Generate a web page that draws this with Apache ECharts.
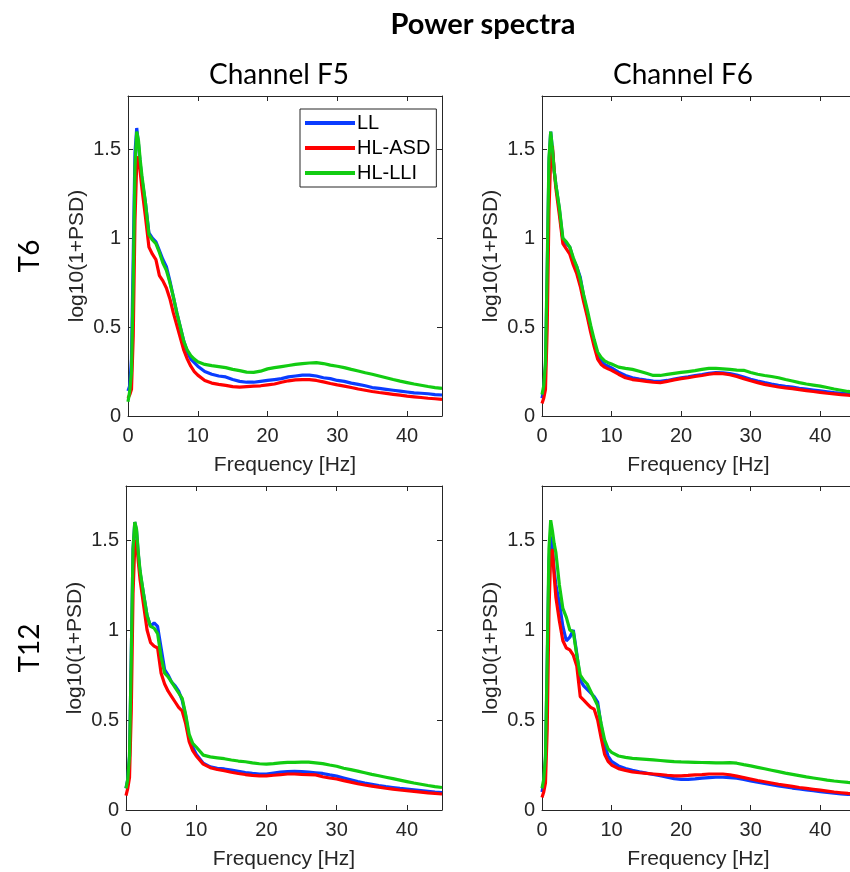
<!DOCTYPE html>
<html>
<head>
<meta charset="utf-8">
<script src="https://cdn.jsdelivr.net/npm/echarts@6/dist/echarts.min.js"></script>
<style>
html,body{margin:0;padding:0;background:#fff;}
#c{width:850px;height:872px;}
</style>
</head>
<body>
<div id="c"></div>
<script>
// Frequency grid (Hz)
const freq = [0,0.25,0.5,0.75,1,1.25,1.5,1.75,2,2.5,3,3.5,4,4.5,5,5.5,6,6.5,7,7.5,8,8.5,9,9.5,10,
  11,12,13,14,15,16,17,18,19,20,21,22,23,24,25,26,27,28,29,30,31,32,33,34,35,36,37,38,39,40,41,42,43,44,45];

const seriesNames = ['LL','HL-ASD','HL-LLI'];
const channelTitles = ['Channel F5','Channel F6'];
const rowTitles = ['T6','T12'];
const xTicks = [0,10,20,30,40];
const yTicks = [0,0.5,1,1.5];

// T6, Channel F5
const t6F5_LL = [0.14,0.17,0.32,0.9,1.48,1.62,1.53,1.42,1.33,1.2,1.03,1.0,0.98,0.93,0.88,0.84,0.76,0.67,0.58,0.5,0.42,0.36,0.32,0.3,0.28,
  0.25,0.235,0.225,0.22,0.205,0.195,0.19,0.19,0.195,0.2,0.205,0.21,0.22,0.225,0.23,0.23,0.225,0.215,0.21,0.2,0.195,0.185,0.178,0.17,0.16,0.155,0.15,0.145,0.14,0.135,0.13,0.128,0.125,0.12,0.118];
const t6F5_ASD = [0.1,0.12,0.15,0.45,1.1,1.42,1.46,1.37,1.28,1.12,0.95,0.91,0.88,0.79,0.76,0.72,0.66,0.58,0.51,0.44,0.37,0.32,0.28,0.25,0.23,
  0.2,0.185,0.178,0.172,0.165,0.162,0.165,0.168,0.17,0.175,0.18,0.19,0.198,0.203,0.205,0.205,0.2,0.192,0.183,0.175,0.168,0.16,0.152,0.145,0.138,0.132,0.127,0.122,0.117,0.112,0.108,0.104,0.1,0.097,0.094];
const t6F5_LLI = [0.08,0.14,0.25,0.75,1.4,1.6,1.55,1.44,1.35,1.2,1.02,0.99,0.97,0.92,0.86,0.82,0.75,0.67,0.58,0.5,0.42,0.37,0.34,0.32,0.305,
  0.29,0.283,0.278,0.272,0.262,0.255,0.247,0.245,0.252,0.265,0.272,0.278,0.284,0.29,0.295,0.298,0.3,0.295,0.286,0.28,0.272,0.262,0.253,0.243,0.235,0.225,0.215,0.205,0.196,0.188,0.18,0.173,0.166,0.16,0.155];

// T6, Channel F6
const t6F6_LL = [0.1,0.15,0.28,0.8,1.42,1.6,1.5,1.38,1.3,1.16,0.99,0.97,0.95,0.88,0.84,0.78,0.67,0.58,0.49,0.41,0.34,0.31,0.29,0.28,0.27,
  0.247,0.228,0.215,0.208,0.202,0.197,0.195,0.2,0.208,0.215,0.22,0.227,0.233,0.24,0.244,0.243,0.238,0.23,0.219,0.207,0.197,0.188,0.18,0.173,0.167,0.162,0.156,0.151,0.146,0.141,0.136,0.131,0.127,0.124,0.122];
const t6F6_ASD = [0.07,0.1,0.15,0.5,1.15,1.45,1.52,1.38,1.28,1.13,0.97,0.94,0.91,0.85,0.8,0.73,0.64,0.56,0.47,0.39,0.32,0.29,0.275,0.265,0.257,
  0.235,0.215,0.205,0.2,0.195,0.19,0.187,0.195,0.203,0.21,0.215,0.222,0.228,0.235,0.24,0.238,0.232,0.222,0.21,0.198,0.188,0.178,0.17,0.163,0.158,0.154,0.148,0.143,0.138,0.133,0.128,0.124,0.12,0.117,0.115];
const t6F6_LLI = [0.12,0.17,0.3,0.85,1.45,1.6,1.5,1.38,1.3,1.17,1.0,0.98,0.95,0.89,0.84,0.77,0.68,0.6,0.51,0.43,0.36,0.33,0.31,0.3,0.292,
  0.275,0.268,0.262,0.252,0.24,0.228,0.228,0.234,0.24,0.245,0.25,0.255,0.262,0.268,0.268,0.265,0.262,0.258,0.257,0.245,0.235,0.228,0.222,0.215,0.205,0.197,0.188,0.18,0.174,0.168,0.16,0.152,0.145,0.138,0.134];

// T12, Channel F5
const t12F5_LL = [0.12,0.17,0.3,0.85,1.45,1.6,1.55,1.42,1.32,1.2,1.08,1.02,1.04,1.02,0.9,0.78,0.75,0.71,0.69,0.66,0.61,0.52,0.4,0.35,0.31,
  0.26,0.24,0.232,0.228,0.222,0.215,0.208,0.203,0.2,0.2,0.205,0.21,0.213,0.215,0.213,0.21,0.207,0.203,0.195,0.188,0.178,0.168,0.158,0.15,0.143,0.136,0.13,0.125,0.12,0.116,0.112,0.108,0.104,0.1,0.097];
const t12F5_ASD = [0.08,0.12,0.18,0.55,1.2,1.47,1.5,1.38,1.28,1.14,1.0,0.93,0.91,0.9,0.76,0.7,0.66,0.63,0.6,0.57,0.55,0.48,0.38,0.33,0.3,
  0.255,0.235,0.225,0.218,0.21,0.203,0.197,0.192,0.19,0.19,0.193,0.196,0.2,0.2,0.198,0.197,0.195,0.185,0.178,0.172,0.163,0.155,0.146,0.139,0.133,0.127,0.121,0.116,0.111,0.107,0.103,0.099,0.095,0.092,0.089];
const t12F5_LLI = [0.12,0.17,0.3,0.85,1.45,1.6,1.56,1.43,1.33,1.2,1.08,1.02,1.01,0.98,0.85,0.76,0.74,0.71,0.68,0.65,0.62,0.53,0.42,0.37,0.35,
  0.305,0.295,0.29,0.285,0.278,0.272,0.268,0.262,0.257,0.255,0.258,0.262,0.265,0.265,0.266,0.266,0.262,0.258,0.25,0.243,0.232,0.224,0.216,0.207,0.198,0.19,0.182,0.174,0.166,0.158,0.15,0.143,0.136,0.13,0.125];

// T12, Channel F6
const t12F6_LL = [0.1,0.15,0.28,0.8,1.38,1.52,1.45,1.33,1.25,1.15,1.02,0.94,0.96,1.0,0.87,0.72,0.69,0.67,0.65,0.63,0.6,0.47,0.36,0.3,0.27,
  0.245,0.23,0.22,0.212,0.205,0.197,0.19,0.182,0.174,0.17,0.17,0.173,0.177,0.18,0.182,0.182,0.18,0.177,0.17,0.162,0.155,0.148,0.141,0.134,0.128,0.122,0.117,0.112,0.107,0.102,0.098,0.094,0.09,0.087,0.085];
const t12F6_ASD = [0.07,0.1,0.15,0.45,1.1,1.42,1.45,1.3,1.18,1.05,0.94,0.9,0.89,0.86,0.8,0.63,0.61,0.59,0.57,0.56,0.5,0.4,0.31,0.27,0.25,
  0.23,0.22,0.212,0.207,0.203,0.2,0.197,0.193,0.19,0.19,0.192,0.195,0.197,0.2,0.2,0.2,0.196,0.188,0.18,0.172,0.164,0.157,0.15,0.143,0.137,0.131,0.125,0.12,0.115,0.11,0.105,0.1,0.096,0.092,0.089];
const t12F6_LLI = [0.12,0.17,0.3,0.85,1.45,1.61,1.55,1.48,1.43,1.25,1.12,1.07,1.0,0.99,0.86,0.75,0.72,0.7,0.66,0.62,0.58,0.48,0.39,0.34,0.32,
  0.3,0.292,0.287,0.284,0.281,0.278,0.275,0.272,0.269,0.267,0.266,0.265,0.264,0.263,0.262,0.262,0.263,0.26,0.252,0.245,0.237,0.229,0.221,0.213,0.205,0.198,0.191,0.184,0.178,0.172,0.166,0.161,0.157,0.153,0.15];

const panels = [
  [t6F5_LL, t6F5_ASD, t6F5_LLI],
  [t6F6_LL, t6F6_ASD, t6F6_LLI],
  [t12F5_LL, t12F5_ASD, t12F5_LLI],
  [t12F6_LL, t12F6_ASD, t12F6_LLI]
];

const colors = ['#0a3cff', '#ff0000', '#12cc12'];
const axisColor = '#262626';
const font = 'Liberation Sans';

const grids = [
  {left: 128, top: 96, width: 314, height: 320},
  {left: 542, top: 96, width: 313, height: 320},
  {left: 126, top: 486, width: 316, height: 324},
  {left: 542, top: 486, width: 313, height: 324}
];

const xAxes = [], yAxes = [], series = [];
grids.forEach((g, i) => {
  g.containLabel = false;
  g.outerBoundsMode = 'none';
  const common = {gridIndex: i, type: 'value', min: 0, max: 45, interval: 10,
    axisLine: {show: true, onZero: false, lineStyle: {color: axisColor, width: 1}},
    axisTick: {show: true, inside: true, length: 5, lineStyle: {color: axisColor}},
    splitLine: {show: false}};
  xAxes.push(Object.assign({}, common, {position: 'bottom',
    name: 'Frequency [Hz]', nameLocation: 'middle', nameGap: 39,
    nameTextStyle: {fontFamily: font, fontSize: 21, color: axisColor},
    axisLabel: {show: true, margin: 10, fontFamily: font, fontSize: 20, color: axisColor, showMaxLabel: false,
      formatter: v => xTicks.indexOf(v) >= 0 ? String(v) : ''}}));
  const ycommon = {gridIndex: i, type: 'value', min: 0, max: 1.8, interval: 0.5,
    axisLine: {show: true, onZero: false, lineStyle: {color: axisColor, width: 1}},
    axisTick: {show: true, inside: true, length: 5, lineStyle: {color: axisColor}},
    splitLine: {show: false}};
  yAxes.push(Object.assign({}, ycommon, {position: 'left',
    name: 'log10(1+PSD)', nameLocation: 'middle', nameGap: 40, nameRotate: 90,
    nameTextStyle: {fontFamily: font, fontSize: 21, color: axisColor},
    axisLabel: {show: true, margin: 7, fontFamily: font, fontSize: 20, color: axisColor, showMaxLabel: false,
      formatter: v => yTicks.indexOf(v) >= 0 ? String(v) : ''}}));
});
grids.forEach((g, i) => {
  xAxes.push({gridIndex: i, type: 'value', min: 0, max: 45, interval: 10, position: 'top',
    axisLine: {show: true, onZero: false, lineStyle: {color: axisColor, width: 1}},
    axisTick: {show: true, inside: true, length: 5, lineStyle: {color: axisColor}},
    axisLabel: {show: false}, splitLine: {show: false}});
  yAxes.push({gridIndex: i, type: 'value', min: 0, max: 1.8, interval: 0.5, position: 'right',
    axisLine: {show: true, onZero: false, lineStyle: {color: axisColor, width: 1}},
    axisTick: {show: true, inside: true, length: 5, lineStyle: {color: axisColor}},
    axisLabel: {show: false}, splitLine: {show: false}});
});

panels.forEach((arrs, i) => {
  arrs.forEach((arr, k) => {
    series.push({
      type: 'line', name: seriesNames[k], xAxisIndex: i, yAxisIndex: i,
      data: freq.map((f, j) => [f, arr[j]]),
      symbol: 'none', showSymbol: false, smooth: false,
      lineStyle: {color: colors[k], width: 3.2}, itemStyle: {color: colors[k]},
      z: 2 + k, animation: false
    });
  });
});

const graphic = [
  {type: 'text', x: 483, y: 25, style: {text: 'Power spectra', font: 'bold 29px Lato', fill: '#000', textAlign: 'center', textVerticalAlign: 'middle'}},
  {type: 'text', x: 279, y: 75, style: {text: channelTitles[0], font: '28px Lato', fill: '#000', textAlign: 'center', textVerticalAlign: 'middle'}},
  {type: 'text', x: 683, y: 75, style: {text: channelTitles[1], font: '28px Lato', fill: '#000', textAlign: 'center', textVerticalAlign: 'middle'}},
  {type: 'text', x: 30, y: 256, rotation: Math.PI / 2, style: {text: rowTitles[0], font: '28px Lato', fill: '#000', textAlign: 'center', textVerticalAlign: 'middle'}},
  {type: 'text', x: 30, y: 648, rotation: Math.PI / 2, style: {text: rowTitles[1], font: '28px Lato', fill: '#000', textAlign: 'center', textVerticalAlign: 'middle'}}
];

const chart = echarts.init(document.getElementById('c'), null, {renderer: 'canvas'});
chart.setOption({
  animation: false,
  backgroundColor: '#fff',
  grid: grids,
  xAxis: xAxes,
  yAxis: yAxes,
  series: series,
  graphic: graphic,
  legend: {
    data: seriesNames, left: 300, top: 109, orient: 'vertical',
    icon: 'rect', itemWidth: 50, itemHeight: 4, itemGap: 5,
    padding: [4, 6, 4, 5],
    borderColor: axisColor, borderWidth: 1, backgroundColor: '#fff',
    textStyle: {fontFamily: font, fontSize: 20, color: '#000', padding: [0, 0, 0, -3]},
    selectedMode: false
  }
});
</script>
</body>
</html>
